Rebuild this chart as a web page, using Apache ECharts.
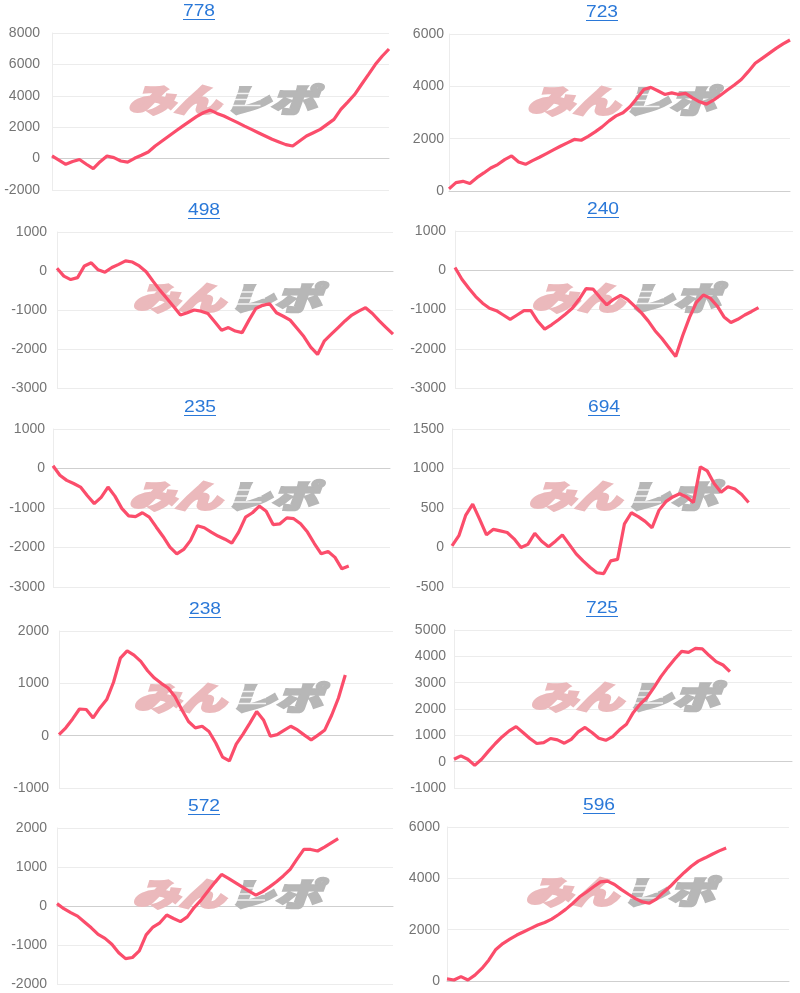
<!DOCTYPE html>
<html><head><meta charset="utf-8">
<script src="https://cdn.jsdelivr.net/npm/echarts@6/dist/echarts.min.js"></script>
<style>html,body{margin:0;padding:0;background:#fff}#c{width:800px;height:993px}</style>
</head><body><div id="c"></div>
<script>
const categories = ["1","2","3","4","5","6","7","8","9","10","11","12","13","14","15","16","17","18","19","20","21","22","23","24","25","26","27","28","29","30","31","32","33","34","35","36","37","38","39","40","41","42","43","44","45","46","47","48","49","50"];
const titles = ["778","723","498","240","235","694","238","725","572","596"];

const s778 = [170,-100,-360,-190,-60,-360,-640,-200,170,60,-150,-220,20,210,420,800,1120,1440,1760,2070,2370,2670,2920,3090,2880,2710,2500,2290,2070,1860,1650,1440,1230,1060,890,800,1120,1440,1650,1860,2180,2500,3130,3600,4080,4720,5350,5990,6520,6980];
const s723 = [80,320,370,290,510,690,880,1010,1200,1340,1110,1020,1160,1290,1430,1570,1710,1840,1970,1940,2090,2260,2450,2680,2870,2990,3220,3540,3880,3960,3830,3690,3750,3690,3730,3560,3410,3320,3470,3660,3860,4050,4260,4560,4880,5070,5260,5450,5620,5770];
const s498 = [70,-130,-220,-170,130,210,30,-30,90,170,260,230,130,-20,-260,-490,-700,-910,-1130,-1070,-1000,-1030,-1090,-1300,-1520,-1450,-1540,-1580,-1260,-960,-880,-840,-1070,-1160,-1260,-1470,-1680,-1950,-2140,-1790,-1620,-1450,-1280,-1130,-1030,-940,-1090,-1280,-1450,-1620];
const s240 = [70,-230,-460,-670,-840,-970,-1030,-1140,-1250,-1140,-1030,-1030,-1300,-1500,-1390,-1260,-1120,-970,-740,-470,-480,-690,-880,-740,-640,-740,-910,-1080,-1290,-1540,-1740,-1970,-2200,-1670,-1200,-820,-630,-710,-910,-1190,-1330,-1250,-1140,-1050,-950];
const s235 = [70,-170,-300,-380,-470,-690,-890,-730,-470,-700,-1010,-1200,-1220,-1120,-1230,-1480,-1720,-1990,-2160,-2050,-1820,-1450,-1500,-1610,-1710,-1790,-1890,-1610,-1230,-1120,-950,-1080,-1420,-1400,-1250,-1270,-1400,-1610,-1900,-2160,-2100,-2250,-2540,-2470];
const s694 = [20,150,410,550,360,160,230,210,190,110,0,40,180,80,10,80,160,40,-80,-170,-250,-320,-330,-170,-150,300,440,390,330,250,470,580,640,680,640,570,1020,970,810,700,770,740,670,570];
const s238 = [20,150,320,510,500,340,530,690,1020,1480,1620,1540,1420,1240,1100,1000,910,750,500,270,150,180,80,-140,-410,-480,-160,30,240,460,300,-10,20,100,180,110,10,-80,10,110,390,720,1160];
const s725 = [90,220,90,-140,90,400,690,950,1170,1330,1110,880,690,720,880,830,700,850,1130,1300,1110,890,810,950,1210,1420,1870,2190,2440,2820,3230,3580,3900,4190,4150,4300,4280,4030,3800,3670,3420];
const s572 = [60,-70,-170,-260,-410,-560,-730,-830,-980,-1200,-1350,-1320,-1150,-740,-540,-430,-230,-320,-400,-280,-40,150,380,600,810,710,600,490,380,280,370,490,620,770,940,1200,1450,1450,1410,1510,1620,1730];
const s596 = [80,40,170,40,230,490,820,1230,1460,1630,1790,1920,2050,2180,2280,2410,2590,2790,3020,3280,3470,3670,3860,3890,3760,3560,3380,3210,3080,3030,3190,3450,3690,3970,4230,4470,4670,4800,4940,5070,5180];

const yMin  = [-2000, 0, -3000, -3000, -3000, -500, -1000, -1000, -2000, 0];
const yMax  = [8000, 6000, 1000, 1000, 1000, 1500, 2000, 5000, 2000, 6000];
const yStep = [2000, 2000, 1000, 1000, 1000, 500, 1000, 1000, 1000, 2000];

const seriesData = [s778, s723, s498, s240, s235, s694, s238, s725, s572, s596];

const layout = [
  {left:52, top:33, width:337, height:157},
  {left:449, top:34, width:341, height:157},
  {left:57, top:232, width:336, height:156},
  {left:455, top:231, width:338, height:157},
  {left:53, top:429, width:337, height:158},
  {left:452, top:429, width:338, height:158},
  {left:59, top:631, width:334, height:157},
  {left:454, top:630, width:338, height:158},
  {left:57, top:828, width:336, height:156},
  {left:447, top:827, width:342, height:154}
];
const labelMargin = [12, 5, 10, 9, 8, 8, 10, 8, 10, 7];
const titleX = [199, 602, 204, 603, 200, 604, 205, 602, 204, 599];

const chart = echarts.init(document.getElementById('c'), null, {renderer:'canvas'});
const grid = [], xAxis = [], yAxis = [], series = [], graphic = [];
const LABEL_FONT = '"Liberation Sans", Arial, sans-serif';
const WM_FONT = 'italic 900 32px "Noto Sans CJK JP", "Noto Sans CJK SC", sans-serif';
layout.forEach((g, i) => {
  grid.push({left:g.left, top:g.top, width:g.width, height:g.height, containLabel:false});
  xAxis.push({
    type:'category', gridIndex:i, data:categories, boundaryGap:false,
    axisLine:{show:true, onZero:true, lineStyle:{color:'#cfcfcf', width:1}},
    axisTick:{show:false}, axisLabel:{show:false}, splitLine:{show:false}
  });
  yAxis.push({
    type:'value', gridIndex:i, min:yMin[i], max:yMax[i], interval:yStep[i],
    axisLine:{show:true, lineStyle:{color:'#ececec'}},
    axisTick:{show:false},
    splitLine:{show:true, lineStyle:{color:'#ececec', width:1}},
    axisLabel:{color:'#747474', fontSize:14, fontFamily:LABEL_FONT, margin:labelMargin[i],
      formatter:(v) => String(v)}
  });
  series.push({
    type:'line', xAxisIndex:i, yAxisIndex:i, data:seriesData[i],
    symbol:'none', smooth:false, z:5,
    lineStyle:{color:'#fb4d6b', width:3.2}
  });
  const cx = g.left + g.width/2, cy = g.top + g.height/2 - 12;
  graphic.push({
    type:'text', x:cx, y:cy, scaleX:1.45, z:1,
    style:{text:'みん', fill:'#ebb9bc', stroke:'#ebb9bc', lineWidth:2.5, font:WM_FONT, textAlign:'right', align:'right', textVerticalAlign:'middle', verticalAlign:'middle'}
  });
  graphic.push({
    type:'text', x:cx+3, y:cy, scaleX:1.45, z:1,
    style:{text:'レポ', fill:'#b7b7b7', stroke:'#b7b7b7', lineWidth:2.5, font:WM_FONT, textAlign:'left', align:'left', textVerticalAlign:'middle', verticalAlign:'middle'}
  });
  [-6, 0, 6].forEach((dy) => {
    graphic.push({
      type:'line', z:2, shape:{x1:cx+2, y1:cy+dy, x2:cx+40, y2:cy+dy},
      style:{stroke:'#ffffff', lineWidth:1.3, opacity:0.85}
    });
  });
  const ty = g.top - 21;
  graphic.push({
    type:'text', x:titleX[i], y:ty, scaleX:1.2,
    style:{text:titles[i], fill:'#2a78d8', font:'16px "Liberation Sans", Arial, sans-serif', textAlign:'center', align:'center', textVerticalAlign:'middle', verticalAlign:'middle'}
  });
  graphic.push({
    type:'line', shape:{x1:titleX[i]-16, y1:ty+7.5, x2:titleX[i]+16, y2:ty+7.5},
    style:{stroke:'#2a78d8', lineWidth:1}
  });
});

chart.setOption({animation:false, backgroundColor:'#fff', grid, xAxis, yAxis, series, graphic});
</script>
</body></html>
